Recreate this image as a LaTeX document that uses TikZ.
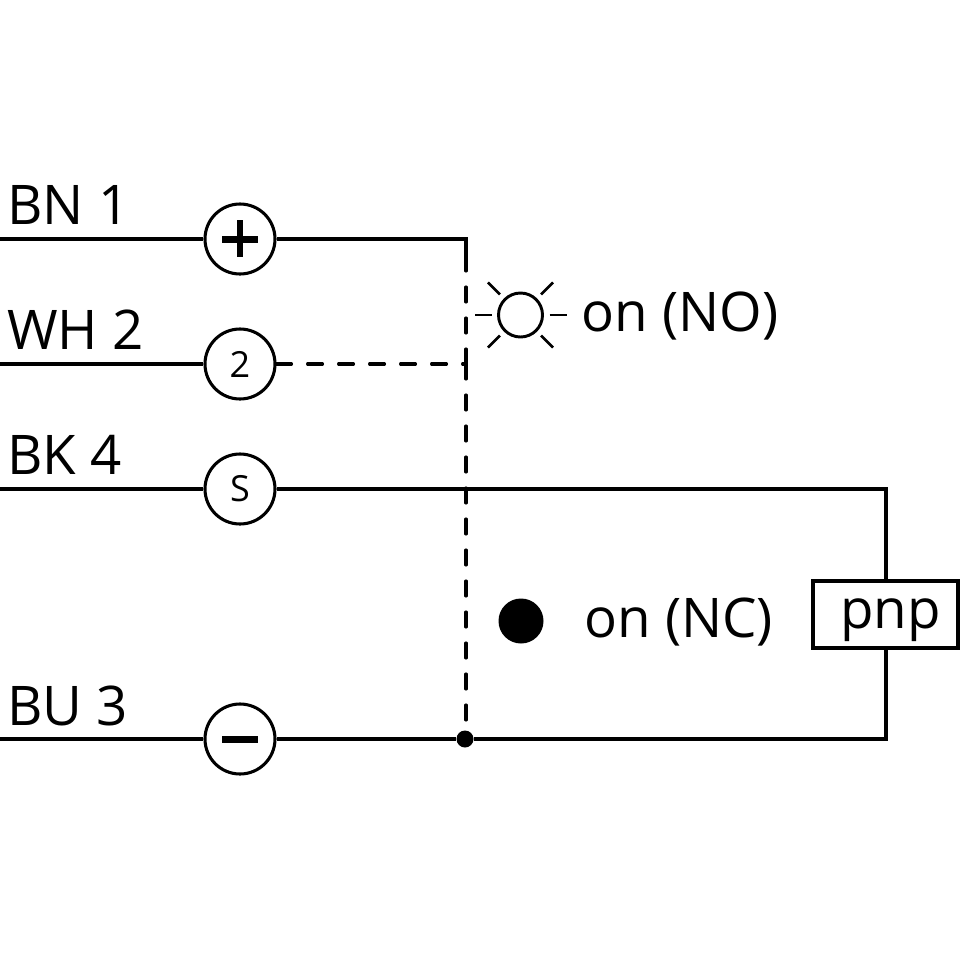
\documentclass[tikz,border=0pt]{standalone}
\usepackage{fontspec}
\setmainfont{Open Sans}
\begin{document}
\tikzset{
  pin/.style={circle,draw,line width=2.3pt,minimum size=70*0.75pt,inner sep=0pt,font=\fontsize{27}{27}\selectfont},
  wirelabel/.style={anchor=base west,inner sep=0pt,font=\fontsize{41}{41}\selectfont},
  wire/.style={line width=2.3pt},
  dashwire/.style={line width=2.3pt,line cap=round,dash pattern=on 11.25pt off 12pt},
  ray/.style={line width=1.9pt}
}
\begin{tikzpicture}[x=0.75pt,y=0.75pt,yscale=-1]
\useasboundingbox (0,0) rectangle (960,960);

%Wire ends
\coordinate (endBN) at (0,239);
\coordinate (endWH) at (0,364);
\coordinate (endBK) at (0,489);
\coordinate (endBU) at (0,739);
\coordinate (cornerBN) at (466,239);
\coordinate (stubBN) at (466,270);
\coordinate (teeWH) at (466,364);
\coordinate (cornerBK) at (886,489);
\coordinate (cornerBU) at (886,739);

%Pins
\node [pin] (pinBN) at (240,239) {};
\node [pin] (pinWH) at (240,364) {2};
\node [pin] (pinBK) at (240,489) {S};
\node [pin] (pinBU) at (240,739) {};
\fill (222,236) rectangle (258,242.5);
\fill (236.8,220) rectangle (243.2,257);
\fill (222,736) rectangle (258,742.5);

%Junction
\node [circle,fill,inner sep=0pt,minimum size=17*0.75pt] (dotBU) at (465,739) {};

%Output box
\node [draw,line width=2.3pt,minimum width=145*0.75pt,minimum height=67*0.75pt,inner sep=0pt] (pnp) at (885.5,614.5) {};

%Solid wires
\draw [wire] (endBN) -- (pinBN);
\draw [wire] (pinBN) -- (cornerBN) -- (stubBN);
\draw [wire] (endWH) -- (pinWH);
\draw [wire] (endBK) -- (pinBK);
\draw [wire] (pinBK) -- (cornerBK) -- (pnp.north -| cornerBK);
\draw [wire] (endBU) -- (pinBU);
\draw [wire] (pinBU) -- (dotBU);
\draw [wire] (dotBU) -- (cornerBU) -- (pnp.south -| cornerBU);

%Dashed wires
\draw [dashwire] (teeWH) -- (stubBN);
\draw [dashwire] (teeWH) -- (dotBU.center -| teeWH);
\draw [dashwire] (pinWH) -- (teeWH);

%Lamps
\node [circle,draw,line width=2.2pt,minimum size=44*0.75pt,inner sep=0pt] (lampNO) at (520.5,315) {};
\node [circle,fill,inner sep=0pt,minimum size=45*0.75pt] (lampNC) at (521,621) {};
\foreach \a in {0,45,135,180,225,315}
  \draw [ray] (lampNO.center) ++(\a:29) -- ++(\a:17);

%Labels
\node [wirelabel] (labelBN) at (7,224) {BN 1};
\node [wirelabel] (labelWH) at (7,349) {WH 2};
\node [wirelabel] (labelBK) at (7,474) {BK 4};
\node [wirelabel] (labelBU) at (7,725) {BU 3};
\node [wirelabel] (labelNO) at (581,331) {on (NO)};
\node [wirelabel] (labelNC) at (584,637) {on (NC)};
\node [wirelabel] (labelPnp) at (840,628) {pnp};
\end{tikzpicture}
\end{document}
